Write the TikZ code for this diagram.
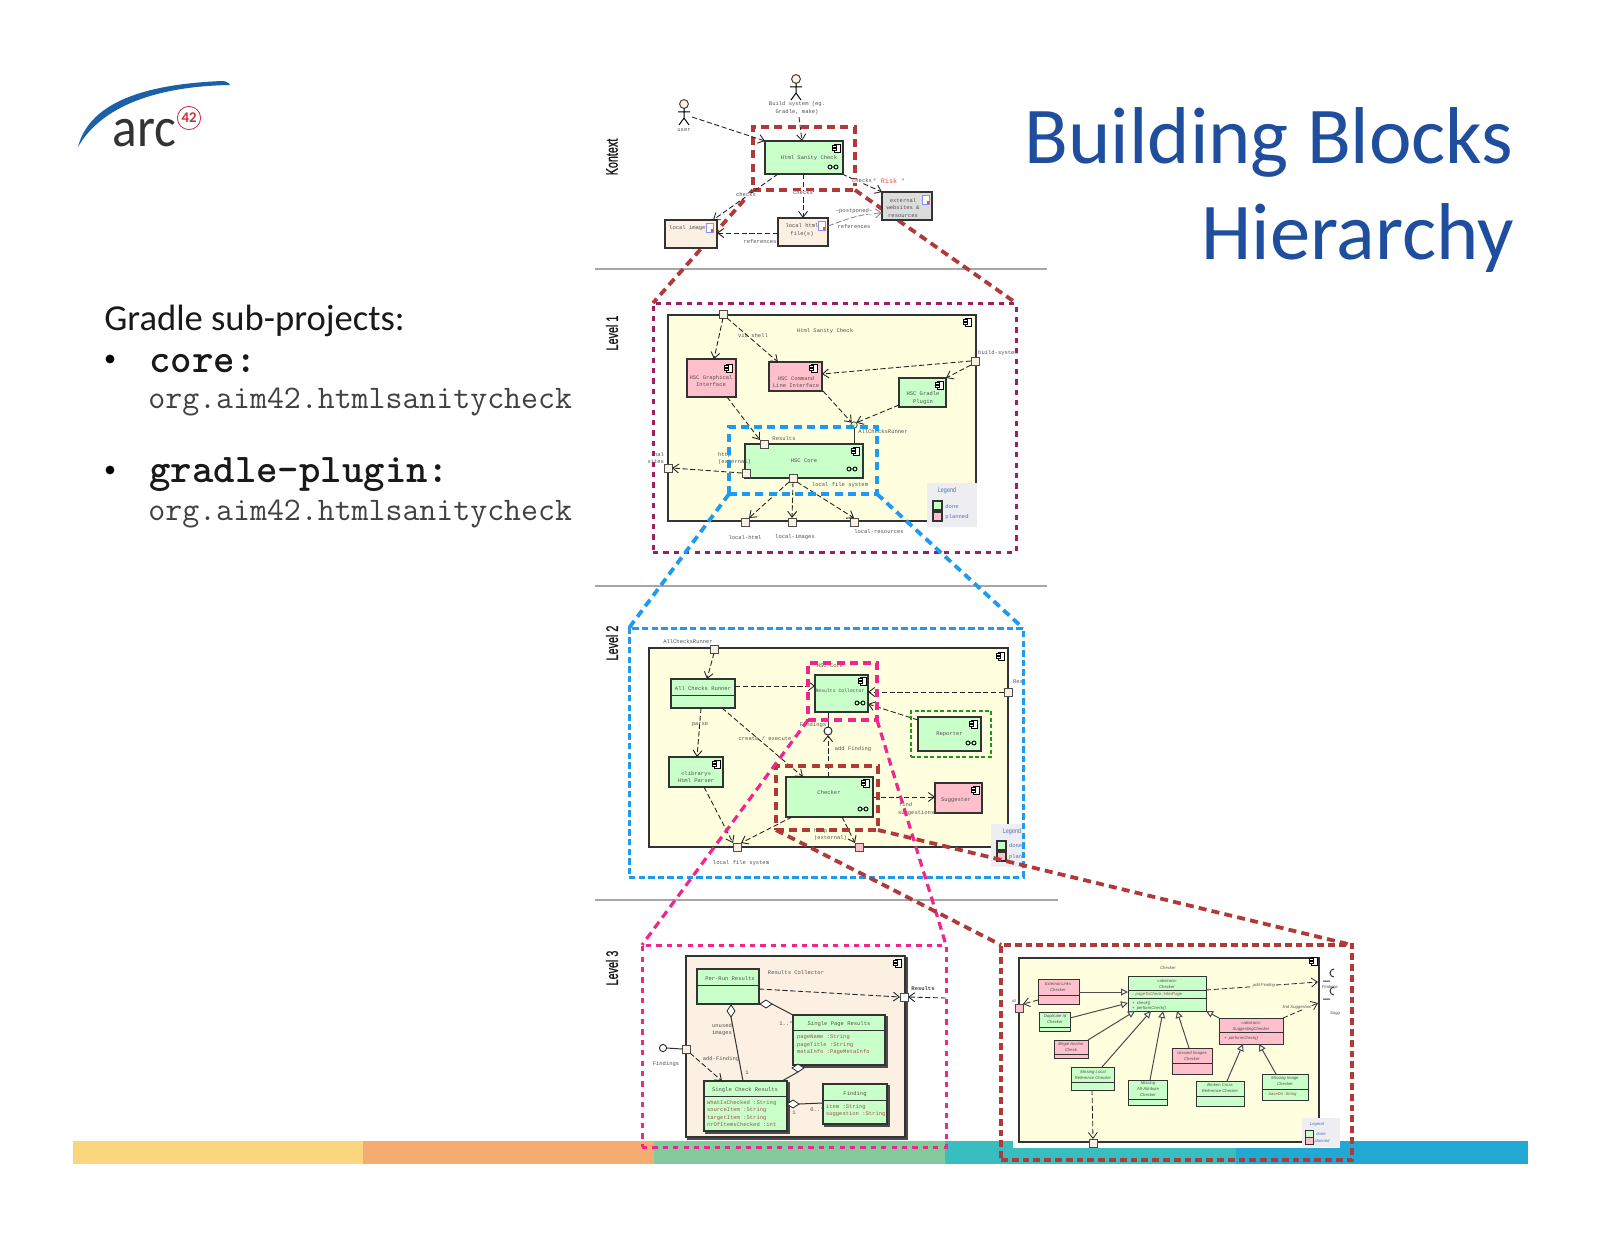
\documentclass[tikz,border=0pt]{standalone}
\usepackage{fontspec}
\setmainfont{Carlito}
\newfontfamily\lmono{Liberation Mono}
\newfontfamily\lsans{Liberation Sans}
\newfontfamily\lsansb[FakeBold=1.3]{Liberation Sans}
\usetikzlibrary{arrows.meta,shapes.geometric,shadows,calc}
\definecolor{cgreen}{HTML}{C9FFC9}
\definecolor{cpink}{HTML}{FFC0CB}
\definecolor{cyel}{HTML}{FFFFE0}
\definecolor{cbeige}{HTML}{FBF0E2}
\definecolor{cgray}{HTML}{DCDCDC}
\definecolor{ctitle}{HTML}{1F4E9E}
\definecolor{fred}{HTML}{B03A3A}
\definecolor{fpur}{HTML}{9E1F5F}
\definecolor{fblue}{HTML}{1E9BF0}
\definecolor{fpink}{HTML}{F0268C}
\definecolor{fgreen}{HTML}{1A9A1A}
\definecolor{attr}{HTML}{A05050}
\definecolor{txt}{HTML}{505050}
\definecolor{legbg}{HTML}{EEEEF2}
\definecolor{legtxt}{HTML}{4A6FB0}
\definecolor{bara}{HTML}{FAD67F}
\definecolor{barb}{HTML}{F5AC70}
\definecolor{barc}{HTML}{83CB9C}
\definecolor{bard}{HTML}{39BEBF}
\definecolor{bare}{HTML}{22A9D3}
\definecolor{logored}{HTML}{C8303A}
\newcommand{\lbf}{\lmono\fontsize{2.75}{3.9}\selectfont}
\newcommand{\litf}{\lsans\itshape\fontsize{2.1}{3}\selectfont}
\tikzset{
 bxs/.style={draw=black!80,line width=.55pt,inner sep=0pt,outer sep=0pt,align=center,font=\lbf,text=txt},
 lbl/.style={inner sep=0pt,outer sep=0pt,align=center,font=\lbf,text=txt},
 lit/.style={inner sep=0pt,outer sep=0pt,align=center,font=\litf,text=txt},
 lat/.style={inner sep=0pt,outer sep=0pt,anchor=west,font=\lbf,text=attr},
 portn/.style={draw=black!70,line width=.4pt,fill=cbeige,minimum size=4pt,inner sep=0pt,outer sep=0pt},
 dep/.style={draw=black!85,line width=.45pt,dash pattern=on 2.6pt off 1.3pt,-{Straight Barb[length=3pt,width=4.5pt]}},
 sol/.style={draw=black!80,line width=.5pt},
 gen/.style={draw=black!70,line width=.5pt,-{Triangle[open,length=3.5pt,width=3.5pt,fill=white]}},
 dia/.style={diamond,draw=black!85,line width=.4pt,fill=white,minimum width=6pt,minimum height=4pt,inner sep=0pt,outer sep=0pt},
 frm/.style={draw=#1,fill=none,dash pattern=on 4pt off 2.6pt,line width=1.9pt,inner sep=0pt,outer sep=0pt},
 frt/.style={draw=#1,fill=none,dash pattern=on 2.6pt off 2.6pt,line width=1.5pt,inner sep=0pt,outer sep=0pt},
 lnk/.style={draw=#1,dash pattern=on 4pt off 2.6pt,line width=1.9pt},
 lnt/.style={draw=#1,dash pattern=on 4pt off 2.6pt,line width=1.6pt},
 sep/.style={draw=black!35,line width=.6pt},
 lev/.style={rotate=90,inner sep=0pt,outer sep=0pt,font=\lsansb\fontsize{8.3}{9}\selectfont,text=black!90},
}
\newcounter{tn}
% [style]{name}{x1}{y1}{x2}{y2}{text}
\newcommand{\bx}[7][]{%
 \pgfmathsetmacro\cxx{(#3+#5)/2}\pgfmathsetmacro\cyy{(#4+#6)/2}%
 \pgfmathsetmacro\ww{(#5-#3)*0.5}\pgfmathsetmacro\hh{(#6-#4)*0.5}%
 \node[bxs,minimum width=\ww pt,minimum height=\hh pt,#1] (#2) at (\cxx,\cyy) {#7};}
\newcommand{\lb}[4][]{\stepcounter{tn}\node[lbl,#1] (t\thetn) at (#2,#3) {#4};}
\newcommand{\pn}[4][]{\node[portn,#1] (#2) at (#3,#4) {};}
\newcommand{\dv}[2]{\draw[sol,line width=.45pt] (#1.west |- 0,#2) -- (#1.east |- 0,#2);}
\newcommand{\comp}[2]{\begin{scope}[shift={(#1,#2)}]
 \draw[black,line width=.45pt,fill=white] (-3,-4) rectangle (3.5,4);
 \draw[black,line width=.45pt,fill=white] (-4.5,-2.5) rectangle (-1,-.6) (-4.5,.6) rectangle (-1,2.5);
 \end{scope}}
\newcommand{\glass}[2]{\begin{scope}[shift={(#1,#2)}]
 \draw[black,line width=.45pt] (-3,0) circle (2) (3,0) circle (2) (-1,0) -- (1,0);
 \end{scope}}
\newcommand{\docn}[2]{\begin{scope}[shift={(#1,#2)}]
 \draw[blue!45!white,line width=.3pt,fill=white] (-3.5,-4.5) rectangle (3.5,4.5);
 \fill[red!75!white] (.5,1) rectangle (3,3.5);
 \end{scope}}
\newcommand{\actor}[3]{\begin{scope}[shift={(#2,#3)}]
 \node[circle,draw=black!80,line width=.45pt,fill=cbeige,minimum size=4.4pt,inner sep=0pt,outer sep=0pt] (#1) at (0,0) {};
 \draw[black,line width=.5pt] (0,4.5) -- (0,14) -- (-5,21) (0,14) -- (5,21) (-6,8) -- (6,8);
 \end{scope}}
\begin{document}
\begin{tikzpicture}[x=.5pt,y=-.5pt]
\useasboundingbox (0,0) rectangle (1600,1236);
\fill[white] (0,0) rectangle (1600,1236);
% colour bars
\fill[bara] (72.5,1141) rectangle (363,1164);
\fill[barb] (363,1141) rectangle (654,1164);
\fill[barc] (654,1141) rectangle (945,1164);
\fill[bard] (945,1141) rectangle (1236,1164);
\fill[bare] (1236,1141) rectangle (1527.5,1164);
% separators
\coordinate (s1a) at (595,269);\coordinate (s1b) at (1047,269);
\coordinate (s2a) at (595,586);\coordinate (s2b) at (1047,586);
\coordinate (s3a) at (595,900);\coordinate (s3b) at (1058,900);
\draw[sep] (s1a)--(s1b); \draw[sep] (s2a)--(s2b); \draw[sep] (s3a)--(s3b);
% logo
\fill[ctitle!90!cyan] (78,147) .. controls (90,100) and (150,84) .. (222,81) .. controls (226,81) and (229,83) .. (230,85) .. controls (170,86) and (105,100) .. (78,147) -- cycle;
\node[anchor=base west,inner sep=0pt,font=\fontsize{28}{30}\selectfont,text=black!80] (logo) at (112,147) {\scalebox{.92}[1]{arc}};
\node[circle,draw=logored,line width=.4pt,minimum size=11.6pt,inner sep=0pt,font=\bfseries\fontsize{7.4}{8}\selectfont,text=logored] (logo42) at (189,118) {42};
% title
\node[anchor=base east,inner sep=0pt,font=\fontsize{40.3}{44}\selectfont,text=ctitle] (tit1) at (1514,163) {Building Blocks};
\node[anchor=base east,inner sep=0pt,font=\fontsize{40.3}{44}\selectfont,text=ctitle] (tit2) at (1514,259) {Hierarchy};
% left text
\node[anchor=base west,inner sep=0pt,font=\fontsize{18.3}{20}\selectfont,text=black!90] (gr) at (104,330) {Gradle sub-projects:};
\node[circle,fill=black,minimum size=4.4pt,inner sep=0pt] (b1) at (110,359) {};
\node[circle,fill=black,minimum size=4.4pt,inner sep=0pt] (b2) at (110,470) {};
\node[anchor=base west,inner sep=0pt,font=\ttfamily\bfseries\fontsize{20.4}{22}\selectfont,text=black!90] (core) at (149,372) {core:};
\node[anchor=base west,inner sep=0pt,font=\ttfamily\fontsize{16.45}{18}\selectfont,text=black!75] (o1) at (148,408) {org.aim42.htmlsanitycheck};
\node[anchor=base west,inner sep=0pt,font=\ttfamily\bfseries\fontsize{20.4}{22}\selectfont,text=black!90] (gp) at (149,482) {gradle-plugin:};
\node[anchor=base west,inner sep=0pt,font=\ttfamily\fontsize{16.45}{18}\selectfont,text=black!75] (o2) at (148,520) {org.aim42.htmlsanitycheck};
% level captions
\node[lev] (lk) at (612,157) {\scalebox{.65}[1]{Kontext}};
\node[lev] (l1) at (612,333) {\scalebox{.65}[1]{Level 1}};
\node[lev] (l2) at (612,643) {\scalebox{.65}[1]{Level 2}};
\node[lev] (l3) at (612,968) {\scalebox{.65}[1]{Level 3}};

%%%% frames drawn under the Kontext boxes
\bx[frm=fred]{zk}{753}{127}{855}{190}{}
\bx[frt=fpur]{z1}{653}{303}{1016}{552}{}
\draw[lnk=fred] (zk.south west) -- (z1.north west);
\draw[lnk=fred] (zk.south east) -- (z1.north east);

%%%% KONTEXT
\actor{user}{684}{104}
\actor{build}{796}{79}
\lb{684}{130}{user}
\lb{797}{108}{Build system (eg.\\Gradle, make)}
\coordinate (uo) at (692,117); \coordinate (bo) at (799,117);
\bx[fill=cgreen]{hsc}{765}{141}{843}{174}{}
\lb{809}{158}{Html Sanity Check}
\comp{837}{148}\glass{833}{167}
\bx[fill=cbeige]{img}{665}{220}{717}{248}{}
\lb{689}{228}{local images}\docn{710}{228}
\bx[fill=cbeige]{htm}{778}{218}{828}{246}{}
\lb{802}{230}{local html\\file(s)}\docn{822}{226}
\bx[fill=cgray]{ext}{882}{192}{932}{220}{}
\lb{903}{208}{external\\websites \&\\resources}
\docn{926}{200}
\draw[dep] (uo) -- (hsc.north west);
\draw[dep] (bo) -- (hsc.north -| 802,0);
\draw[dep] (hsc.south -| 778,0) -- (img.north -| 713,0);
\draw[dep] (hsc.south -| 803,0) -- (htm.north -| 803,0);
\draw[dep] (hsc.south -| 842,0) -- (ext.north west);
\draw[dep] (htm.west |- 0,233) -- (img.east |- 0,233);
\draw[dep,draw=black!45,dash pattern=on 3pt off 1pt] (htm.east |- 0,226) .. controls (850,218) and (860,214) .. (ext.west |- 0,213);
\lb[fill=white]{746}{195}{checks}
\lb[fill=white]{803}{193}{checks}
\lb[fill=white]{862}{181}{checks}
\lb[text=red!75!white,font=\lmono\fontsize{3.4}{4}\selectfont]{889}{181}{* Risk *}
\lb{760}{242}{references}
\lb[fill=white]{854}{211}{\textasciitilde postponed\textasciitilde}
\lb{854}{227}{references}

%%%% LEVEL 1
\bx[fill=cyel]{f1}{668}{315}{976}{521}{}
\comp{968}{322}
\lb{825}{331}{Html Sanity Check}
\pn{tp}{723}{314}
\bx[fill=cpink]{gi}{687}{359}{736}{397}{}
\lb{711}{381}{HSC Graphical\\Interface}
\bx[fill=cpink]{cli}{769}{362}{822}{391}{}
\lb{796}{382}{HSC Command\\Line Interface}
\bx[fill=cgreen]{gp1}{899}{378}{946}{407}{}
\lb{923}{398}{HSC Gradle\\Plugin}
\bx[fill=cgreen]{cor}{745}{444}{863}{478}{HSC Core}
\comp{729}{368}\comp{814}{368}\comp{940}{385}\comp{856}{451}\glass{852}{469}
\pn{bs}{975}{361}
\node[portn,circle,fill=cgreen,minimum size=3.2pt] (acr) at (854,425) {};
\pn{res}{764}{444}
\pn{htp}{746}{473}
\pn{fin}{668}{468}
\pn{lfs}{793}{478}
\pn{lh}{745}{522}
\pn{li}{792}{522}
\pn{lr}{854}{522}
\draw[dep] (tp.south) -- (gi.north -| 714,0);
\draw[dep] (tp.south east) -- (cli.north -| 778,0);
\draw[dep] (bs.west) -- (cli.east |- 0,374);
\draw[dep] (bs.south west) -- (gp1.north east);
\draw[dep] (cli.south -| 823,0) -- (acr.north west);
\draw[dep] (gp1.west |- 0,405) -- (acr.north east);
\draw[sol] (acr.south) -- (cor.north -| 854,0);
\draw[dep] (gi.south -| 727,0) -- (res.north west);
\draw[dep] (htp.west) -- (fin.east);
\draw[dep] (lfs.south west) -- (lh.north east);
\draw[dep] (lfs.south) -- (li.north);
\draw[dep] (lfs.south east) -- (lr.north);
\lb{753}{336}{via shell}
\lb{998}{353}{build-system}
\lb{883}{432}{AllChecksRunner}
\lb{784}{439}{Results}
\lb[anchor=west]{718}{455}{http}
\lb[anchor=west]{718}{462}{(external)}
\lb[anchor=east]{664}{455}{nal}
\lb[anchor=east]{664}{462}{sites}
\lb{840}{485}{local file system}
\lb{745}{538}{local-html}
\lb{795}{537}{local-images}
\lb{879}{532}{local-resources}
\bx[draw=none,fill=legbg]{lg1}{927}{483}{977}{527}{}
\node[lbl,font=\lsans\fontsize{3.4}{4}\selectfont,text=legtxt] (lg1t) at (947,491) {\scalebox{.8}[1]{Legend}};
\bx[fill=cgreen]{lg1a}{933}{501}{942}{510}{}
\bx[fill=cpink]{lg1b}{933}{512}{942}{521}{}
\node[lbl,text=legtxt] (lg1c) at (952,507) {done};
\node[lbl,text=legtxt] (lg1d) at (957,517) {planned};

%%%% LEVEL 2
\bx[fill=cyel]{f2}{649}{648}{1008}{847}{}
\comp{1001}{656}
\pn{pacr}{714}{649}
\bx[fill=cgreen]{acl}{671}{679}{735}{708}{}\dv{acl}{695}
\lb{703}{689}{All Checks Runner}
\bx[fill=cgreen]{rc}{815}{675}{868}{712}{}
\lb[font=\lmono\fontsize{2.4}{3}\selectfont]{840}{691}{Results Collector}
\comp{863}{681}\glass{860}{703}
\pn{pres}{1008}{692}
\bx[fill=cgreen]{rep}{918}{717}{981}{751}{Reporter}
\comp{974}{724}\glass{971}{743}
\bx[fill=cgreen]{par}{669}{757}{723}{787}{}
\lb{696}{777}{\guillemotleft library\guillemotright\\Html Parser}
\comp{717}{764}
\bx[fill=cgreen]{chk}{786}{777}{873}{817}{}
\lb{829}{793}{Checker}
\comp{866}{783}\glass{863}{809}
\bx[fill=cpink]{sug}{935}{783}{982}{813}{}
\lb{956}{800}{Suggester}
\comp{976}{790}
\node[circle,draw=black!85,line width=.5pt,fill=white,minimum size=4pt,inner sep=0pt,outer sep=0pt] (lol) at (828,731) {};
\pn{pfs}{737}{847}
\pn[fill=cpink]{pht}{859}{847}
\draw[dep] (pacr.south) -- (acl.north -| 707,0);
\draw[dep] (acl.east |- 0,686) -- (rc.west |- 0,686);
\draw[dep] (acl.south -| 701,0) -- (par.north -| 697,0);
\draw[dep] (acl.south -| 722,0) -- (chk.north -| 803,0);
\draw[dep] (pres.west) -- (rc.east |- 0,692);
\draw[dep] (rep.west |- 0,720) -- (rc.east |- 0,704);
\draw[sol] (rc.south -| 828,0) -- (lol.north);
\draw[dep] (chk.north -| 828,0) -- (lol.south);
\draw[dep] (chk.east |- 0,797) -- (sug.west |- 0,797);
\draw[dep] (par.south -| 704,0) -- (pfs.north west);
\draw[dep] (chk.south -| 792,0) -- (pfs.north east);
\draw[dep] (chk.south -| 842,0) -- (pht.north west);
\lb{688}{642}{AllChecksRunner}
\lb{830}{666}{HSC Core}
\lb[anchor=west]{1013}{682}{Res}
\lb{813}{725}{Findings}
\lb{853}{749}{add Finding}
\lb{700}{725}{parse}
\lb{765}{739}{create / execute}
\lb[anchor=west]{899}{805}{find}
\lb[anchor=west]{898}{813}{suggestions}
\lb[anchor=west]{814}{831}{http}
\lb[anchor=west]{814}{838}{(external)}
\lb{741}{863}{local file system}
\bx[draw=none,fill=legbg]{lg2}{991}{824}{1023}{867}{}
\node[lbl,font=\lsans\fontsize{3.4}{4}\selectfont,text=legtxt] (lg2t) at (1012,832) {\scalebox{.8}[1]{Legend}};
\bx[fill=cgreen]{lg2a}{997}{841}{1006}{850}{}
\bx[fill=cpink]{lg2b}{997}{852}{1006}{861}{}
\node[lbl,text=legtxt,anchor=west] (lg2c) at (1009,846) {done};
\node[lbl,text=legtxt,anchor=west] (lg2d) at (1009,857) {plan};

%%%% LEVEL 3 left
\tikzset{shd/.style={copy shadow={shadow xshift=1pt,shadow yshift=-1pt,draw=black!70,fill=white}}}
\bx[fill=cbeige,shd]{f3}{686}{956}{905}{1137}{}
\comp{898}{963}
\lb{796}{973}{Results Collector}
\bx[fill=cgreen]{prr}{697}{969}{759}{1004}{}\dv{prr}{985}
\lb{730}{979}{Per-Run Results}
\bx[fill=cgreen,shd]{spr}{793}{1015}{885}{1065}{}\dv{spr}{1030}
\lb{839}{1024}{Single Page Results}
\node[lat] (a1) at (797,1037) {pageName :String};
\node[lat] (a2) at (797,1045) {pageTitle :String};
\node[lat] (a3) at (797,1052) {metaInfo :PageMetaInfo};
\bx[fill=cgreen,shd]{scr}{704}{1081}{787}{1131}{}\dv{scr}{1096}
\lb{745}{1090}{Single Check Results}
\node[lat] (a4) at (707,1103) {whatIsChecked :String};
\node[lat] (a5) at (707,1110) {sourceItem :String};
\node[lat] (a6) at (707,1118) {targetItem :String};
\node[lat] (a7) at (707,1125) {nrOfItemsChecked :int};
\bx[fill=cgreen,shd]{fnd}{823}{1084}{887}{1124}{}\dv{fnd}{1100}
\lb{855}{1094}{Finding}
\node[lat] (a8) at (826,1107) {item :String};
\node[lat] (a9) at (826,1114) {suggestion :String};
\pn[fill=white]{pr3}{904}{997}
\pn{pf3}{686}{1049}
\node[circle,draw=black!85,line width=.45pt,fill=white,minimum width=3.6pt,inner sep=0pt,outer sep=0pt] (lf3) at (663,1048) {};
\node[dia,rotate=90] (d1) at (731,1011) {};
\node[dia] (d2) at (766,1004) {};
\node[dia] (d3) at (798,1068) {};
\node[dia] (d4) at (793,1104) {};
\draw[sol] (d1.west) -- (scr.north -| 743,0);
\draw[sol] (d2.east) -- (spr.north west);
\draw[sol] (d3.south) -- (scr.north -| 782,0);
\draw[sol] (d4.east) -- (fnd.west |- 0,1103);
\draw[sol] (lf3.east) -- (pf3.west);
\draw[dep] (pf3.south east) -- (scr.north -| 722,0);
\draw[dep] (prr.east |- 0,989) -- (pr3.west);
\coordinate (inR) at (946,998);
\draw[dep] (inR) -- (pr3.east);
\lb[font=\lmono\bfseries\fontsize{2.75}{3.7}\selectfont,text=black!75]{923}{989}{Results}
\lb{666}{1064}{Findings}
\lb{721}{1059}{add-Finding}
\lb{722}{1029.5}{unused\\images}
\lb{786}{1023}{1..*}
\lb{747}{1073}{1}
\lb{794}{1113}{1}
\lb{817}{1110}{0..*}

%%%% LEVEL 3 right
\fill[white] (1013,1141) rectangle (1340,1148);
\bx[fill=cyel]{f4}{1019}{958}{1319}{1142}{}
\comp{1314}{961}
\lb[lit]{1168}{968}{Checker}
\tikzset{cl/.style={fill=#1,line width=.45pt}}
\bx[cl=cgreen]{abc}{1128}{976}{1206}{1011}{}\dv{abc}{990}\dv{abc}{998}
\node[lit] (x1) at (1167,983.5) {\guillemotleft abstract\guillemotright\\Checker};
\node[lit,text=attr,anchor=west] (x2) at (1132,994) {-\ \ pageToCheck :HtmlPage};
\node[lit,anchor=west] (x3) at (1132,1003) {+\ \ check()};
\node[lit,anchor=west] (x4) at (1132,1008) {+\ \ performCheck()};
\bx[cl=cpink]{elc}{1038}{979}{1079}{1004}{}\dv{elc}{995}
\node[lit] (x5) at (1058,987) {External Links\\Checker};
\bx[cl=cgreen]{dup}{1039}{1012}{1070}{1031}{}\dv{dup}{1027}
\node[lit] (x6) at (1055,1019) {Duplicate Id\\Checker};
\bx[cl=cpink]{ill}{1054}{1040}{1088}{1058}{}\dv{ill}{1054}
\node[lit] (x7) at (1071,1047) {Illegal Anchor\\Check};
\bx[cl=cgreen]{mlr}{1071}{1067}{1114}{1090}{}\dv{mlr}{1082}
\node[lit] (x8) at (1093,1075) {Missing Local\\Reference Checker};
\bx[cl=cgreen]{maa}{1128}{1080}{1167}{1105}{}\dv{maa}{1099}
\node[lit] (x9) at (1148,1089) {Missing\\Alt-Attribute\\Checker};
\bx[cl=cpink]{uic}{1172}{1048}{1212}{1074}{}\dv{uic}{1063}
\node[lit] (x10) at (1192,1056) {Unused Images\\Checker};
\bx[cl=cgreen]{bcr}{1196}{1081}{1244}{1106}{}\dv{bcr}{1096}
\node[lit] (x11) at (1220,1088) {Broken Cross\\Reference Checker};
\bx[cl=cgreen]{mic}{1262}{1074}{1308}{1100}{}\dv{mic}{1089}
\node[lit] (x12) at (1285,1081) {Missing Image\\Checker};
\node[lit,text=attr,anchor=west] (x13) at (1265,1094) {-\ \ baseDir :String};
\bx[cl=cpink]{sgc}{1219}{1018}{1283}{1044}{}\dv{sgc}{1032}
\node[lit] (x14) at (1251,1026) {\guillemotleft abstract\guillemotright\\SuggestingChecker};
\node[lit,anchor=west] (x15) at (1224,1038) {+\ \ performCheck()};
\pn[fill=cpink]{pid}{1019}{1008}
\pn{pbt}{1093}{1143}
\coordinate (sk1) at (1318,982); \coordinate (sk2) at (1318,1003);
\draw[black!80,line width=.5pt] (1323,981) -- (1330,981) (1334,977) arc (90:270:4);
\draw[black!80,line width=.5pt] (1323,999) -- (1330,999) (1334,995) arc (90:270:4);
\draw[gen] (elc.east |- 0,992) -- (abc.west |- 0,992);
\draw[gen] (dup.east |- 0,1018) -- (abc.west |- 0,1003);
\draw[gen] (ill.north east) -- (abc.south -| 1135,0);
\draw[gen] (mlr.north -| 1102,0) -- (abc.south -| 1151,0);
\draw[gen] (maa.north -| 1150,0) -- (abc.south -| 1163,0);
\draw[gen] (uic.north -| 1189,0) -- (abc.south -| 1177,0);
\draw[gen] (sgc.north west) -- (abc.south east);
\draw[gen] (bcr.north -| 1227,0) -- (sgc.south -| 1243,0);
\draw[gen] (mic.north -| 1276,0) -- (sgc.south -| 1259,0);
\draw[dep,line width=.4pt] (abc.east |- 0,990) -- (sk1);
\draw[dep,line width=.4pt] (sgc.north east) -- (sk2);
\draw[dep,line width=.4pt] (elc.west |- 0,1000) -- (pid.north east);
\draw[dep,line width=.4pt] (mlr.south -| 1092,0) -- (pbt.north);
\lb[lit,fill=cyel]{1264}{985}{add Finding}
\lb[lit,fill=cyel]{1297}{1007}{find Suggestion}
\lb[lit]{1330}{987}{Findings}
\lb[lit]{1335}{1013}{Sugg}
\lb[lit]{1014}{1001}{id}
\bx[draw=none,fill=legbg]{lg4}{1302}{1118}{1340}{1147}{}
\node[lit,text=legtxt] (lg4t) at (1317,1124) {Legend};
\bx[cl=cgreen]{lg4a}{1305}{1130}{1313}{1137}{}
\bx[cl=cpink]{lg4b}{1305}{1137}{1313}{1144}{}
\node[lit,text=legtxt] (lg4c) at (1321,1134) {done};
\node[lit,text=legtxt] (lg4d) at (1322,1141) {planned};

%%%% zoom frames
\bx[frm=fblue]{zb}{729}{427}{877}{494}{}
\bx[frt=fblue,dash pattern=on 3.2pt off 1.6pt]{z2}{629}{628}{1023}{877}{}
\bx[frm=fpink,line width=1.6pt]{zp}{808}{663}{877}{720}{}
\bx[frt=fgreen,line width=1pt,dash pattern=on 2pt off 1.2pt]{zg}{911}{711}{991}{757}{}
\bx[frm=fred]{zc}{776}{766}{878}{830}{}
\bx[frt=fpink]{z3}{642}{945}{946}{1147}{}
\bx[frm=fred,dash pattern=on 3.4pt off 2pt]{z4}{1001}{945}{1352}{1160}{}
\draw[lnk=fblue] (zb.south west) -- (z2.north west);
\draw[lnk=fblue] (zb.south east) -- (z2.north east);
\draw[lnt=fpink] (zp.south west) -- (z3.north west);
\draw[lnt=fpink] (zp.south east) -- (z3.north east);
\draw[lnk=fred] (zc.south west) -- (z4.north west);
\draw[lnk=fred] (zc.south east) -- (z4.north east);
\end{tikzpicture}
\end{document}
